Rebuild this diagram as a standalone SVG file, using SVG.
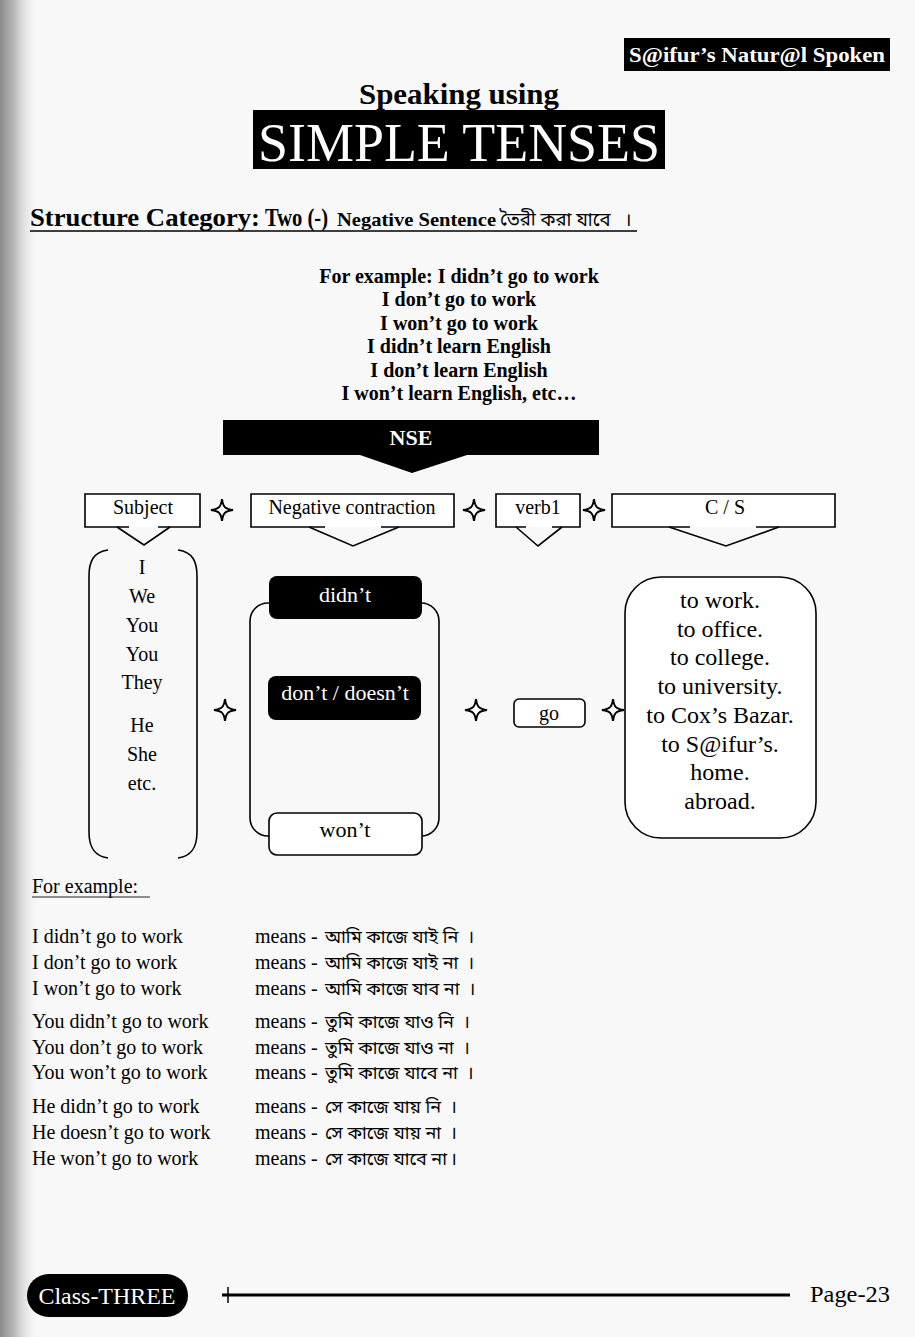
<svg xmlns="http://www.w3.org/2000/svg" xmlns:xlink="http://www.w3.org/1999/xlink" width="915" height="1337" viewBox="0 0 915 1337">
<defs>
<linearGradient id="edge" x1="0" y1="0" x2="1" y2="0">
<stop offset="0" stop-color="#8a8a8a"/>
<stop offset="0.35" stop-color="#b8b8b8"/>
<stop offset="1" stop-color="#f7f7f7" stop-opacity="0"/>
</linearGradient>
<path id="star" d="M0,-11 C1,-3 3,-1 11,0 C3,1 1,3 0,11 C-1,3 -3,1 -11,0 C-3,-1 -1,-3 0,-11Z" fill="#fff" stroke="#000" stroke-width="2"/>
<style>
.s{font-family:"Liberation Serif","Times New Roman",serif;fill:#000}
.b{font-weight:bold}
.w{fill:#fff}
.c{text-anchor:middle}
.bn{font-family:"Noto Sans Bengali","Noto Serif Bengali","Lohit Bengali","Noto Sans",sans-serif;fill:#000}
.box{fill:#fff;stroke:#000;stroke-width:1.6}
.ln{fill:none;stroke:#000;stroke-width:1.6}
.blk{fill:#000}
</style>
</defs>
<rect x="0" y="0" width="915" height="1337" fill="#f8f8f8"/>
<rect x="0" y="0" width="40" height="1337" fill="url(#edge)"/>

<g id="header">
<rect x="624" y="38" width="266" height="33" class="blk"/>
<text x="629" y="62" class="s b w" font-size="21" textLength="256" lengthAdjust="spacingAndGlyphs">S@ifur’s Natur@l Spoken</text>
<text x="459" y="104" class="s b c" font-size="30" textLength="200" lengthAdjust="spacingAndGlyphs">Speaking using</text>
<rect x="253" y="110" width="412" height="59" class="blk"/>
<text x="459" y="161" class="s w c" font-size="54" textLength="402" lengthAdjust="spacingAndGlyphs">SIMPLE TENSES</text>
</g>

<g id="structure-title">
<text x="30" y="226" class="s b" font-size="25" textLength="230" lengthAdjust="spacingAndGlyphs">Structure Category:</text>
<text x="265" y="226" class="s b" font-size="25" textLength="63" lengthAdjust="spacingAndGlyphs">Two (-)</text>
<text x="337" y="226" class="s b" font-size="19" textLength="159" lengthAdjust="spacingAndGlyphs">Negative Sentence</text>
<text x="500" y="226" class="bn" font-size="18.5">তৈরী করা যাবে<tspan dx="14">।</tspan></text>
<line x1="30" y1="231" x2="637" y2="231" stroke="#000" stroke-width="1.6"/>
</g>

<g id="examples-top" class="s b c" font-size="20">
<text x="459" y="283">For example: I didn’t go to work</text>
<text x="459" y="306">I don’t go to work</text>
<text x="459" y="330">I won’t go to work</text>
<text x="459" y="353">I didn’t learn English</text>
<text x="459" y="377">I don’t learn English</text>
<text x="459" y="400">I won’t learn English, etc…</text>
</g>

<g id="nse">
<polygon points="223,420 599,420 599,455 467,455 412,473 360,455 223,455" class="blk"/>
<text x="411" y="445" class="s b w c" font-size="22">NSE</text>
</g>

<g id="head-subject">
<path d="M129,527 H85 V494 H200 V527 H158" class="box"/>
<polyline points="117,527 144,545 170,527" class="ln"/>
<text x="143" y="514" class="s c" font-size="20">Subject</text>
</g>
<g id="head-negative">
<path d="M325,527 H251 V494 H454 V527 H381" class="box"/>
<polyline points="309,527 353,546 399,527" class="ln"/>
<text x="352" y="514" class="s c" font-size="20">Negative contraction</text>
</g>
<g id="head-verb">
<path d="M526,527 H496 V494 H580 V527 H552" class="box"/>
<polyline points="516,527 538,546 562,527" class="ln"/>
<text x="538" y="514" class="s c" font-size="20">verb1</text>
</g>
<g id="head-cs">
<path d="M690,527 H612 V494 H835 V527 H756" class="box"/>
<polyline points="669,527 726,546 779,527" class="ln"/>
<text x="725" y="514" class="s c" font-size="20">C / S</text>
</g>

<g id="plus-signs">
<use xlink:href="#star" href="#star" x="222" y="510"/>
<use xlink:href="#star" href="#star" x="474" y="510"/>
<use xlink:href="#star" href="#star" x="594" y="510"/>
<use xlink:href="#star" href="#star" x="225" y="710"/>
<use xlink:href="#star" href="#star" x="476" y="710"/>
<use xlink:href="#star" href="#star" x="613" y="710"/>
</g>

<g id="subjects">
<path d="M108,550 C93,552 89,562 89,576 L89,832 C89,847 94,856 108,858" class="ln"/>
<path d="M178,550 C193,552 197,562 197,576 L197,832 C197,847 192,856 178,858" class="ln"/>
<g class="s c" font-size="20">
<text x="142" y="574">I</text>
<text x="142" y="603">We</text>
<text x="142" y="632">You</text>
<text x="142" y="661">You</text>
<text x="142" y="689">They</text>
<text x="142" y="732">He</text>
<text x="142" y="761">She</text>
<text x="142" y="790">etc.</text>
</g>
</g>

<g id="negatives">
<rect x="250" y="603" width="189" height="233" rx="18" class="ln"/>
<rect x="269" y="576" width="153" height="43" rx="8" class="blk"/>
<text x="345" y="602" class="s w c" font-size="22">didn’t</text>
<rect x="268" y="676" width="153" height="44" rx="8" class="blk"/>
<text x="345" y="700" class="s w c" font-size="22">don’t / doesn’t</text>
<rect x="269" y="813" width="153" height="42" rx="8" class="box"/>
<text x="345" y="837" class="s c" font-size="22">won’t</text>
</g>

<g id="verb">
<rect x="514" y="699" width="71" height="28" rx="5" class="box"/>
<text x="549" y="720" class="s c" font-size="20">go</text>
</g>

<g id="complements">
<rect x="625" y="577" width="191" height="261" rx="36" class="box"/>
<g class="s c" font-size="24">
<text x="720" y="608">to work.</text>
<text x="720" y="637">to office.</text>
<text x="720" y="665">to college.</text>
<text x="720" y="694">to university.</text>
<text x="720" y="723">to Cox’s Bazar.</text>
<text x="720" y="752">to S@ifur’s.</text>
<text x="720" y="780">home.</text>
<text x="720" y="809">abroad.</text>
</g>
</g>

<g id="examples-bottom">
<text x="32" y="893" class="s" font-size="20" fill="#222">For example:</text>
<line x1="32" y1="897" x2="150" y2="897" stroke="#222" stroke-width="1.2"/>
<g class="s" font-size="20" fill="#222">
<text x="32" y="943">I didn’t go to work</text>
<text x="32" y="969">I don’t go to work</text>
<text x="32" y="995">I won’t go to work</text>
<text x="32" y="1028">You didn’t go to work</text>
<text x="32" y="1054">You don’t go to work</text>
<text x="32" y="1079">You won’t go to work</text>
<text x="32" y="1113">He didn’t go to work</text>
<text x="32" y="1139">He doesn’t go to work</text>
<text x="32" y="1165">He won’t go to work</text>
<text x="255" y="943">means -</text>
<text x="255" y="969">means -</text>
<text x="255" y="995">means -</text>
<text x="255" y="1028">means -</text>
<text x="255" y="1054">means -</text>
<text x="255" y="1079">means -</text>
<text x="255" y="1113">means -</text>
<text x="255" y="1139">means -</text>
<text x="255" y="1165">means -</text>
</g>
<g class="bn" font-size="18">
<text x="325" y="943">আমি কাজে যাই নি<tspan dx="9">।</tspan></text>
<text x="325" y="969">আমি কাজে যাই না<tspan dx="9">।</tspan></text>
<text x="325" y="995">আমি কাজে যাব না<tspan dx="9">।</tspan></text>
<text x="325" y="1028">তুমি কাজে যাও নি<tspan dx="9">।</tspan></text>
<text x="325" y="1054">তুমি কাজে যাও না<tspan dx="9">।</tspan></text>
<text x="325" y="1079">তুমি কাজে যাবে না<tspan dx="9">।</tspan></text>
<text x="325" y="1113">সে কাজে যায় নি<tspan dx="9">।</tspan></text>
<text x="325" y="1139">সে কাজে যায় না<tspan dx="9">।</tspan></text>
<text x="325" y="1165">সে কাজে যাবে না<tspan dx="3">।</tspan></text>
</g>
</g>

<g id="footer">
<rect x="27" y="1274" width="161" height="43" rx="21.5" class="blk"/>
<text x="107" y="1304" class="s w c" font-size="23" textLength="137" lengthAdjust="spacingAndGlyphs">Class-THREE</text>
<line x1="222" y1="1295" x2="790" y2="1295" stroke="#000" stroke-width="3"/>
<line x1="228" y1="1287" x2="228" y2="1303" stroke="#000" stroke-width="1.5"/>
<text x="810" y="1302" class="s" font-size="24" textLength="80" lengthAdjust="spacingAndGlyphs">Page-23</text>
</g>
</svg>
